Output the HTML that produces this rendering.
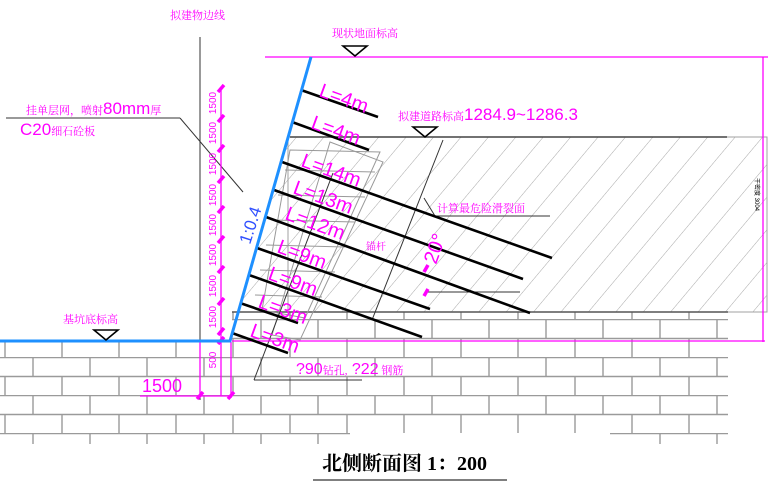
<!DOCTYPE html>
<html><head><meta charset="utf-8"><style>
html,body{margin:0;padding:0;background:#fff;}
svg{display:block;}
text{font-family:"Liberation Sans","Noto Sans CJK SC",sans-serif;}
.cn{font-family:"Liberation Serif","Noto Serif CJK SC",serif;}
</style></head><body>
<svg width="780" height="489" viewBox="0 0 780 489" xmlns="http://www.w3.org/2000/svg">
<defs>
<pattern id="brick" x="0" y="319" width="57" height="38" patternUnits="userSpaceOnUse">
<rect width="57" height="38" fill="#fff"/>
<line x1="0" y1="0.5" x2="57" y2="0.5" stroke="#9a9a9a" stroke-width="1.4"/>
<line x1="0" y1="19.5" x2="57" y2="19.5" stroke="#9a9a9a" stroke-width="1.4"/>
<line x1="33" y1="0" x2="33" y2="19" stroke="#9a9a9a" stroke-width="1.4"/>
<line x1="5" y1="19" x2="5" y2="38" stroke="#9a9a9a" stroke-width="1.4"/>
</pattern>
<pattern id="hatch" x="0" y="0" width="21" height="21" patternUnits="userSpaceOnUse" patternTransform="rotate(40)">
<line x1="0" y1="0" x2="0" y2="21" stroke="#a8a8a8" stroke-width="1"/>
</pattern>
<clipPath id="hc"><polygon points="288,137 767,137 767,312 238,312"/></clipPath>
</defs>

<rect x="0" y="342" width="728" height="102" fill="url(#brick)"/>
<rect x="232" y="312" width="496" height="30" fill="url(#brick)"/>
<rect x="350" y="433" width="260" height="14" fill="#fff"/>
<rect x="0" y="444" width="780" height="10" fill="#fff"/>

<rect x="230" y="137" width="540" height="175" fill="url(#hatch)" clip-path="url(#hc)"/>
<rect x="288" y="137" width="479" height="175" fill="none" stroke="#a0a0a0" stroke-width="1"/>
<line x1="290" y1="137" x2="727" y2="137" stroke="#444" stroke-width="1.5"/>
<line x1="232" y1="312" x2="728" y2="312" stroke="#555" stroke-width="1.5"/>

<g stroke="#999" stroke-width="1" fill="none">
<polygon points="330,142 383,162 300,340 272,335"/>
<polygon points="290,150 380,152 305,318 262,310"/>
<line x1="285" y1="170" x2="375" y2="172"/>
<line x1="278" y1="195" x2="365" y2="197"/>
<line x1="272" y1="220" x2="355" y2="222"/>
<line x1="266" y1="245" x2="345" y2="247"/>
<line x1="260" y1="270" x2="335" y2="272"/>
<line x1="255" y1="295" x2="322" y2="297"/>
</g>

<g stroke="#333" stroke-width="1" fill="none">
<line x1="443" y1="140" x2="372" y2="320"/>
<line x1="333" y1="173" x2="254" y2="380"/>
<line x1="254" y1="380" x2="362" y2="380"/>
<line x1="424" y1="198" x2="435" y2="216"/>
<line x1="435" y1="216" x2="550" y2="216"/>
<line x1="428" y1="292" x2="520" y2="292"/>
<line x1="6" y1="118" x2="180" y2="118"/>
<line x1="180" y1="118" x2="243" y2="192"/>
<line x1="200" y1="37" x2="200" y2="400"/>
<line x1="311" y1="57" x2="440" y2="57"/>
</g>

<g stroke="#ff00ff" stroke-width="1.3" fill="none">
<line x1="265" y1="57" x2="768" y2="57"/>
<line x1="763" y1="57" x2="763" y2="342"/>
<line x1="232" y1="341" x2="765" y2="341"/>
<line x1="221" y1="88" x2="221" y2="396"/>
<line x1="140" y1="396" x2="232" y2="396"/>
<line x1="200" y1="342" x2="200" y2="398"/>
<line x1="231" y1="342" x2="231" y2="398"/>
</g>
<g stroke="#ff00ff" stroke-width="3.5">
<line x1="218" y1="92" x2="224" y2="85"/><line x1="218" y1="122" x2="224" y2="115"/>
<line x1="218" y1="152" x2="224" y2="145"/><line x1="218" y1="183" x2="224" y2="176"/>
<line x1="218" y1="213" x2="224" y2="206"/><line x1="218" y1="243" x2="224" y2="236"/>
<line x1="218" y1="273" x2="224" y2="266"/><line x1="218" y1="305" x2="224" y2="298"/>
<line x1="218" y1="335" x2="224" y2="328"/><line x1="218" y1="344" x2="224" y2="337"/>
<line x1="197" y1="399" x2="203" y2="392"/><line x1="228" y1="399" x2="234" y2="392"/>
<line x1="424" y1="272" x2="428" y2="265"/><line x1="424" y1="296" x2="428" y2="289"/>
</g>
<g fill="#ff00ff" font-size="10">
<text transform="translate(216,103) rotate(-90)" text-anchor="middle">1500</text>
<text transform="translate(216,133) rotate(-90)" text-anchor="middle">1500</text>
<text transform="translate(216,164) rotate(-90)" text-anchor="middle">1500</text>
<text transform="translate(216,195) rotate(-90)" text-anchor="middle">1500</text>
<text transform="translate(216,225) rotate(-90)" text-anchor="middle">1500</text>
<text transform="translate(216,255) rotate(-90)" text-anchor="middle">1500</text>
<text transform="translate(216,286) rotate(-90)" text-anchor="middle">1500</text>
<text transform="translate(216,317) rotate(-90)" text-anchor="middle">1500</text>
<text transform="translate(216,360) rotate(-90)" text-anchor="middle">500</text>
</g>
<text x="142" y="392" fill="#ff00ff" font-size="18">1500</text>

<g stroke="#000" stroke-width="2.6">
<line x1="301" y1="90" x2="378" y2="117"/>
<line x1="292" y1="122" x2="369" y2="150"/>
<line x1="282" y1="162" x2="552" y2="258"/>
<line x1="274" y1="190" x2="523" y2="279"/>
<line x1="266" y1="217" x2="530" y2="313"/>
<line x1="257" y1="248" x2="430" y2="309"/>
<line x1="249" y1="275" x2="422" y2="337"/>
<line x1="240" y1="303" x2="298" y2="323"/>
<line x1="232" y1="333" x2="288" y2="353"/>
</g>
<g fill="#ff00ff" font-size="20">
<text transform="translate(318,96) rotate(20)">L=4m</text>
<text transform="translate(310,128) rotate(20)">L=4m</text>
<text transform="translate(300,166) rotate(20)">L=14m</text>
<text transform="translate(292,193) rotate(20)">L=13m</text>
<text transform="translate(284,219) rotate(20)">L=12m</text>
<text transform="translate(276,252) rotate(20)">L=9m</text>
<text transform="translate(267,279) rotate(20)">L=9m</text>
<text transform="translate(257,307) rotate(20)">L=3m</text>
<text transform="translate(249,336) rotate(20)">L=3m</text>
<text transform="translate(436,265) rotate(-70)">20°</text>
</g>

<polyline points="311,57 230,341 0,341" fill="none" stroke="#1e90ff" stroke-width="3"/>
<text transform="translate(250,245) rotate(-72)" fill="#3050ff" font-size="17">1:0.4</text>

<g fill="#fff" stroke="#000" stroke-width="1.6">
<polygon points="343,46 367,46 355,56"/>
<polygon points="413,127 437,127 425,137"/>
<polygon points="94,330 118,330 106,340"/>
</g>

<g fill="#ff00ff" class="cn">
<text x="170" y="19" font-size="11" class="cn">拟建物边线</text>
<text x="332" y="37" font-size="11" class="cn">现状地面标高</text>
<text x="26" y="114" font-size="11" class="cn">挂单层网，喷射<tspan font-family="Liberation Sans" font-size="17">80mm</tspan>厚</text>
<text x="20" y="135" font-size="17" font-family="Liberation Sans">C20<tspan font-size="11" font-family="Liberation Serif, Noto Serif CJK SC">细石砼板</tspan></text>
<text x="398" y="120" font-size="11" class="cn">拟建道路标高<tspan font-family="Liberation Sans" font-size="17">1284.9~1286.3</tspan></text>
<text x="437" y="212" font-size="11" class="cn">计算最危险滑裂面</text>
<text x="366" y="250" font-size="10" class="cn">锚杆</text>
<text x="63" y="323" font-size="11" class="cn">基坑底标高</text>
<text x="296" y="374" font-size="16" font-family="Liberation Sans">?90<tspan font-size="11" font-family="Liberation Serif, Noto Serif CJK SC">钻孔,</tspan> ?22<tspan font-size="11" font-family="Liberation Serif, Noto Serif CJK SC"> 钢筋</tspan></text>
</g>
<text transform="translate(755,178) rotate(90)" font-size="6" fill="#000">干密度 3004</text>

<text x="322" y="470" font-size="20" fill="#000" class="cn" font-weight="bold">北侧断面图 1：200</text>
<line x1="313" y1="480" x2="507" y2="480" stroke="#333" stroke-width="1.3"/>
</svg>
</body></html>
